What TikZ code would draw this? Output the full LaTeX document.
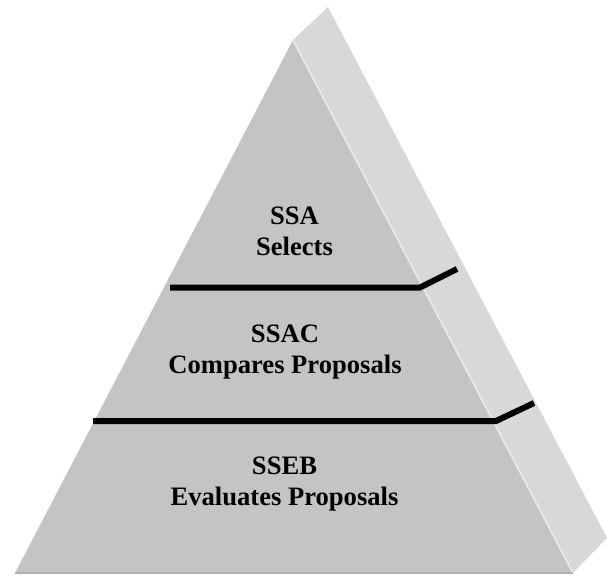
\documentclass[tikz,border=0pt]{standalone}
\usepackage{fontspec}
\setmainfont{Liberation Serif}

\begin{document}
\begin{tikzpicture}[x=1pt,y=-1pt,
		frontface/.style={fill={rgb,255:red,196;green,196;blue,196}},
		sideface/.style={fill={rgb,255:red,216;green,216;blue,216}},
		rim/.style={draw={rgb,255:red,232;green,232;blue,232},line width=1.8pt},
		floor/.style={draw={rgb,255:red,176;green,176;blue,176},line width=2pt},
		divider/.style={draw=black,line width=6pt,line join=miter},
		tier/.style={align=center,inner sep=0pt,font=\fontsize{26.6}{31}\selectfont\bfseries}]
			\useasboundingbox (0,0) rectangle (607,576);
			\coordinate (apex) at (293,40);
			\coordinate (backapex) at (328,7);
			\coordinate (baseL) at (15,573);
			\coordinate (baseR) at (573,573);
			\coordinate (backbase) at (607,538);
			\coordinate (upL) at (170,287.5);
			\coordinate (upM) at (420,287.5);
			\coordinate (upR) at (457,269);
			\coordinate (lowL) at (93,421);
			\coordinate (lowM) at (496,421);
			\coordinate (lowR) at (534,403);
			\fill[sideface] (apex) -- (backapex) -- (backbase) -- (baseR) -- cycle;
			\fill[frontface] (apex) -- (baseL) -- (baseR) -- cycle;
			\draw[rim] (apex) -- (baseR);
			\draw[floor] (baseL) -- (baseR);
			\draw[divider] (upL) -- (upM) -- (upR);
			\draw[divider] (lowL) -- (lowM) -- (lowR);
			\node[tier] (ssa) at (294.5,231) {SSA\\Selects};
			\node[tier] (ssac) at (285,352.5) {SSAC\\Compares Proposals};
			\node[tier] (sseb) at (284.5,484.5) {SSEB\\Evaluates Proposals};
		\end{tikzpicture}
\end{document}
